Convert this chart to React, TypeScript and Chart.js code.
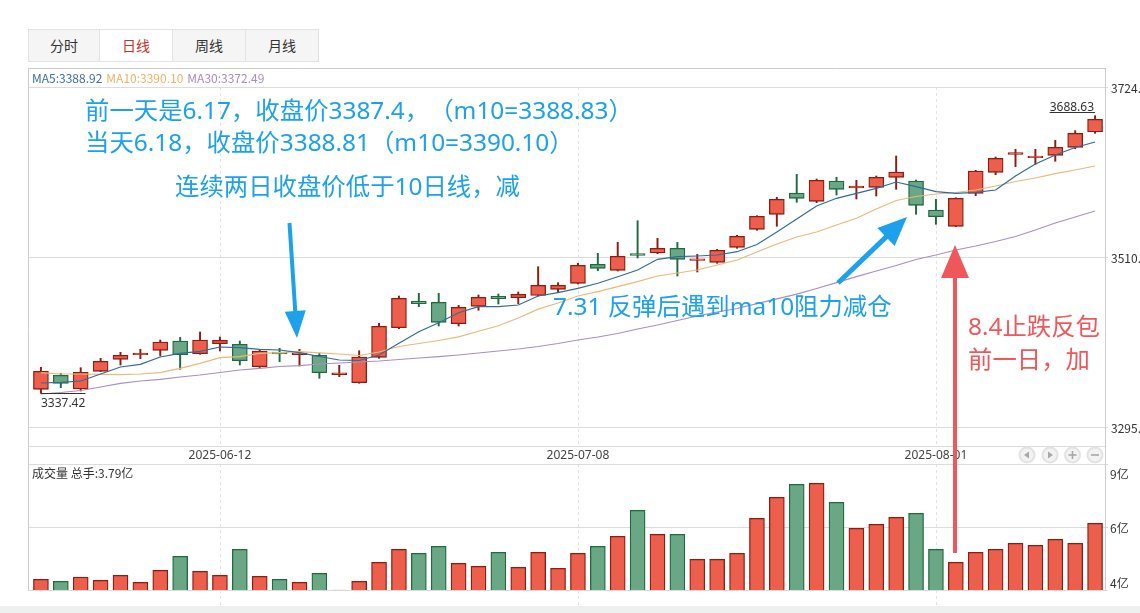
import React, { useEffect, useRef } from 'react';
import { Chart, registerables } from 'chart.js';

Chart.register(...registerables);

// ---------- data ----------
const dates = [
  '2025-05-29', '2025-05-30', '2025-06-03', '2025-06-04', '2025-06-05', '2025-06-06', '2025-06-09', '2025-06-10',
  '2025-06-11', '2025-06-12', '2025-06-13', '2025-06-16', '2025-06-17', '2025-06-18', '2025-06-19', '2025-06-20',
  '2025-06-23', '2025-06-24', '2025-06-25', '2025-06-26', '2025-06-27', '2025-06-30', '2025-07-01', '2025-07-02',
  '2025-07-03', '2025-07-04', '2025-07-07', '2025-07-08', '2025-07-09', '2025-07-10', '2025-07-11', '2025-07-14',
  '2025-07-15', '2025-07-16', '2025-07-17', '2025-07-18', '2025-07-21', '2025-07-22', '2025-07-23', '2025-07-24',
  '2025-07-25', '2025-07-28', '2025-07-29', '2025-07-30', '2025-07-31', '2025-08-01', '2025-08-04', '2025-08-05',
  '2025-08-06', '2025-08-07', '2025-08-08', '2025-08-11', '2025-08-12', '2025-08-13',
];

const opens = [
  3342.54, 3360.25, 3343.0, 3365.31, 3380.49, 3386.2, 3391.87, 3403.63, 3387.57, 3400.22,
  3399.46, 3371.12, 3389.6, 3386.5, 3385.55, 3361.2, 3350.88, 3383.02, 3420.46, 3454.23,
  3452.59, 3425.52, 3447.53, 3460.18, 3458.41, 3461.19, 3469.04, 3476.63, 3500.66, 3493.07,
  3513.31, 3514.95, 3520.9, 3505.6, 3503.19, 3522.17, 3544.94, 3563.91, 3590.85, 3580.36,
  3606.03, 3597.18, 3598.07, 3610.72, 3606.03, 3569.35, 3548.73, 3590.48, 3617.04, 3639.81,
  3635.6, 3638.55, 3648.67, 3668.02,
];
const highs = [
  3370.37, 3362.78, 3369.86, 3381.75, 3389.34, 3393.14, 3404.9, 3408.32, 3415.02, 3408.69,
  3403.63, 3391.87, 3394.4, 3393.1, 3388.08, 3372.9, 3391.36, 3426.03, 3460.56, 3463.98,
  3463.98, 3448.8, 3461.82, 3463.09, 3465.62, 3497.62, 3477.38, 3501.93, 3514.58, 3528.49,
  3555.81, 3533.55, 3528.49, 3513.31, 3519.64, 3537.35, 3562.14, 3585.42, 3614.51, 3608.56,
  3610.72, 3606.92, 3612.36, 3637.66, 3607.3, 3582.89, 3584.91, 3619.57, 3636.39, 3646.14,
  3646.14, 3657.52, 3669.66, 3688.63,
];
const lows = [
  3337.42, 3344.56, 3340.38, 3364.8, 3373.27, 3381.24, 3384.66, 3367.84, 3386.81, 3390.98,
  3373.27, 3369.1, 3377.4, 3372.0, 3356.45, 3358.47, 3350.13, 3381.75, 3419.19, 3447.02,
  3422.61, 3422.61, 3442.47, 3450.44, 3450.82, 3460.56, 3464.73, 3475.74, 3492.56, 3492.18,
  3508.63, 3514.07, 3485.86, 3490.92, 3501.93, 3520.9, 3543.67, 3548.73, 3579.09, 3578.58,
  3588.32, 3583.26, 3587.06, 3595.54, 3563.91, 3551.26, 3548.22, 3587.44, 3614.0, 3624.12,
  3627.16, 3630.96, 3646.89, 3666.38,
];
const closes = [
  3365.31, 3350.13, 3364.04, 3377.96, 3385.55, 3386.8, 3402.37, 3386.3, 3404.9, 3404.5,
  3378.71, 3390.98, 3387.4, 3388.81, 3363.53, 3361.8, 3383.4, 3422.23, 3457.65, 3450.82,
  3427.29, 3446.27, 3458.92, 3457.14, 3462.71, 3474.1, 3474.1, 3499.4, 3495.6, 3510.78,
  3512.05, 3520.9, 3506.99, 3506.3, 3518.37, 3536.08, 3561.38, 3582.89, 3584.15, 3606.92,
  3595.54, 3599.71, 3610.72, 3617.42, 3575.3, 3560.87, 3584.15, 3618.68, 3634.75, 3641.83,
  3636.39, 3648.67, 3666.38, 3684.09,
];

const ma5 = [
  3350.5, 3351.39, 3353.03, 3361.89, 3370.74, 3374.16, 3383.39, 3388.08, 3390.61, 3396.04,
  3395.16, 3393.14, 3392.25, 3388.92, 3384.03, 3379.6, 3378.97, 3385.92, 3400.73, 3415.4,
  3426.78, 3439.43, 3447.02, 3447.02, 3449.17, 3460.56, 3464.73, 3470.3, 3476.63, 3484.97,
  3493.45, 3506.99, 3510.27, 3511.16, 3512.42, 3516.6, 3525.71, 3541.52, 3557.96, 3574.41,
  3584.15, 3590.48, 3596.8, 3604.77, 3598.82, 3592.5, 3590.48, 3591.74, 3594.65, 3612.36,
  3627.54, 3638.92, 3648.41, 3655.37,
];
const ma10 = [
  3363.53, 3361.89, 3361.89, 3361.51, 3361.0, 3361.89, 3363.53, 3369.1, 3375.43, 3382.51,
  3383.77, 3388.08, 3388.83, 3390.1, 3388.5, 3387.19, 3385.29, 3389.72, 3396.68, 3400.47,
  3404.27, 3408.9, 3416.0, 3422.9, 3432.8, 3444.0, 3451.7, 3460.56, 3466.0, 3472.32,
  3478.65, 3485.86, 3489.65, 3493.45, 3499.77, 3506.1, 3516.22, 3526.34, 3535.19, 3541.52,
  3550.37, 3558.85, 3570.61, 3581.37, 3586.43, 3589.59, 3591.49, 3594.65, 3599.71, 3605.4,
  3609.83, 3615.27, 3619.95, 3625.01,
];
const ma30 = [
  3336.59, 3338.49, 3341.02, 3345.44, 3350.13, 3353.03, 3355.19, 3358.09, 3360.62, 3363.79,
  3366.95, 3369.1, 3371.38, 3372.49, 3374.54, 3375.8, 3377.07, 3378.33, 3380.23, 3382.13,
  3383.77, 3385.92, 3388.45, 3390.98, 3393.51, 3396.68, 3400.47, 3404.9, 3408.69, 3413.12,
  3418.81, 3423.87, 3429.57, 3435.26, 3440.32, 3444.75, 3451.0, 3457.0, 3463.0, 3470.0,
  3477.5, 3485.0, 3492.18, 3499.14, 3506.73, 3512.42, 3518.75, 3523.81, 3529.5, 3535.83,
  3544.05, 3552.9, 3560.49, 3568.08,
];

// 成交量 (亿手)
const volumes = [
  4.22, 4.14, 4.31, 4.18, 4.38, 4.1, 4.58, 5.14, 4.54, 4.38,
  5.42, 4.34, 4.22, 4.1, 4.46, 3.79, 4.14, 4.9, 5.42, 5.26,
  5.54, 4.86, 4.74, 5.3, 4.7, 5.3, 4.66, 5.26, 5.54, 5.94,
  6.98, 6.02, 6.02, 5.02, 5.02, 5.26, 6.66, 7.5, 8.02, 8.06,
  7.3, 6.26, 6.42, 6.7, 6.86, 5.42, 4.9, 5.3, 5.42, 5.66,
  5.58, 5.82, 5.66, 6.46,
];

const dateTickLabels = ['2025-06-12', '2025-07-08', '2025-08-01'];
const priceTicks = [3724.74, 3510.04, 3295.34];
const tabLabels = ['分时', '日线', '周线', '月线'];
const maLegend = ['MA5:3388.92', 'MA10:3390.10', 'MA30:3372.49'];
const volumeTitle = '成交量 总手:3.79亿';
const blueNotes = [
  '前一天是6.17，收盘价3387.4，（m10=3388.83）',
  '当天6.18，收盘价3388.81（m10=3390.10）',
  '连续两日收盘价低于10日线，减',
  '7.31 反弹后遇到ma10阻力减仓',
];
const redNotes = ['8.4止跌反包', '前一日，加'];

// ---------- style / layout ----------
const UP_FILL = '#ec5f4c';
const UP_LINE = '#8f1c10';
const DN_FILL = '#6aa784';
const DN_LINE = '#1f6b3f';
const MA_COLORS = ['#2f6c9c', '#ebb878', '#a98fc4'];
const LEGEND_COLORS = ['#3d6f9e', '#efb262', '#a98bc2'];
const BLUE = '#1da1ea';
const RED = '#f0575a';
const GRID = '#dcdcdc';
const FRAME = '#cccccc';
const LEGEND_TOP = 68;
const PRICE_BOTTOM = 446;
const VOL_TOP = 464;
const BAND_TOP = 606;
const AXIS_FONT = '12px "Noto Sans", "Noto Sans CJK SC", sans-serif';
const PRICE_FONT = '12px "Noto Sans CJK SC", "Noto Sans", sans-serif';

function drawArrow(ctx: CanvasRenderingContext2D, x1: number, y1: number, x2: number, y2: number,
  shaft: number, headLen: number, headW: number, color: string) {
  const dx = x2 - x1, dy = y2 - y1;
  const len = Math.hypot(dx, dy);
  const ux = dx / len, uy = dy / len;
  const bx = x2 - ux * headLen, by = y2 - uy * headLen;
  ctx.save();
  ctx.strokeStyle = color;
  ctx.fillStyle = color;
  ctx.lineWidth = shaft;
  ctx.beginPath();
  ctx.moveTo(x1, y1);
  ctx.lineTo(bx + ux * 2, by + uy * 2);
  ctx.stroke();
  ctx.beginPath();
  ctx.moveTo(x2, y2);
  ctx.lineTo(bx - uy * headW / 2, by + ux * headW / 2);
  ctx.lineTo(bx + uy * headW / 2, by - ux * headW / 2);
  ctx.closePath();
  ctx.fill();
  ctx.restore();
}

const overlayPlugin = {
  id: 'klineOverlay',
  beforeDatasetsDraw(chart: any) {
    const { ctx, chartArea: a, scales } = chart;
    const xs = scales.x, ys = scales.y, yv = scales.yv;
    const L = Math.round(a.left), R = Math.round(a.right), B = Math.round(a.bottom);
    const c = (v: number) => Math.round(v) + 0.5;
    ctx.save();
    ctx.lineWidth = 1;
    // dashed date lines
    ctx.strokeStyle = '#e3e3e3';
    ctx.setLineDash([3, 3]);
    dateTickLabels.forEach((d) => {
      const px = c(xs.getPixelForValue(dates.indexOf(d)));
      ctx.beginPath();
      ctx.moveTo(px, a.top);
      ctx.lineTo(px, PRICE_BOTTOM);
      ctx.moveTo(px, VOL_TOP);
      ctx.lineTo(px, 613);
      ctx.stroke();
    });
    ctx.setLineDash([]);
    // horizontal grid
    ctx.strokeStyle = GRID;
    const h = (yy: number, x2 = R + 3) => {
      ctx.beginPath();
      ctx.moveTo(L, c(yy));
      ctx.lineTo(x2, c(yy));
      ctx.stroke();
    };
    priceTicks.forEach((v) => h(ys.getPixelForValue(v)));
    h(PRICE_BOTTOM, R);
    h(VOL_TOP, R + 3);
    const vTop = yv.getValueForPixel(VOL_TOP);
    const vMid = (vTop + yv.min) / 2;
    h(yv.getPixelForValue(vMid));
    h(B);
    // frame
    ctx.strokeStyle = FRAME;
    ctx.beginPath();
    ctx.moveTo(L + 0.5, LEGEND_TOP + 0.5);
    ctx.lineTo(R + 0.5, LEGEND_TOP + 0.5);
    ctx.moveTo(L + 0.5, LEGEND_TOP);
    ctx.lineTo(L + 0.5, B + 1);
    ctx.moveTo(R + 0.5, LEGEND_TOP);
    ctx.lineTo(R + 0.5, B + 1);
    ctx.stroke();
    ctx.restore();
  },
  afterDatasetsDraw(chart: any) {
    const { ctx, chartArea: a, scales } = chart;
    const xs = scales.x, ys = scales.y, yv = scales.yv;
    const R = Math.round(a.right), B = Math.round(a.bottom);
    ctx.save();
    ctx.fillStyle = '#333';
    ctx.textBaseline = 'middle';
    ctx.textAlign = 'left';
    // price tick labels (cut by the page edge like the original)
    ctx.font = PRICE_FONT;
    priceTicks.forEach((v) => ctx.fillText(v.toFixed(2), R + 6, ys.getPixelForValue(v) + 1.5));
    // volume labels
    const vTop = yv.getValueForPixel(VOL_TOP);
    const vMid = (vTop + yv.min) / 2;
    ctx.fillText(Math.round(vTop) + '亿', R + 5, VOL_TOP + 10);
    ctx.fillText(Math.round(vMid) + '亿', R + 5, yv.getPixelForValue(vMid) + 1);
    ctx.fillText(Math.round(yv.min) + '亿', R + 5, B - 7);
    // date labels
    ctx.font = AXIS_FONT;
    ctx.textAlign = 'center';
    ctx.fillStyle = '#444';
    dateTickLabels.forEach((d) => {
      ctx.fillText(d, xs.getPixelForValue(dates.indexOf(d)), (PRICE_BOTTOM + VOL_TOP) / 2 + 1);
    });
    // low / high markers
    let iMin = 0, iMax = 0;
    lows.forEach((v, i) => { if (v < lows[iMin]) iMin = i; });
    highs.forEach((v, i) => { if (v > highs[iMax]) iMax = i; });
    ctx.strokeStyle = '#333';
    ctx.lineWidth = 1;
    ctx.fillStyle = '#333';
    const lx = xs.getPixelForValue(iMin), ly = Math.round(ys.getPixelForValue(lows[iMin])) + 0.5;
    ctx.textAlign = 'left';
    const lowText = lows[iMin].toFixed(2);
    const lw = ctx.measureText(lowText).width;
    ctx.beginPath(); ctx.moveTo(lx, ly); ctx.lineTo(lx + lw, ly); ctx.stroke();
    ctx.fillText(lowText, lx, ly + 10);
    const hx = xs.getPixelForValue(iMax), hy = Math.round(ys.getPixelForValue(highs[iMax])) - 3.5;
    const highText = highs[iMax].toFixed(2);
    const hw = ctx.measureText(highText).width;
    ctx.textAlign = 'right';
    ctx.beginPath(); ctx.moveTo(hx - hw - 1, hy); ctx.lineTo(hx, hy); ctx.stroke();
    ctx.fillText(highText, hx - 1, hy - 5);
    // annotation arrows
    drawArrow(ctx, 289.5, 223, 297, 338, 4, 27, 21, BLUE);
    drawArrow(ctx, 838, 283, 907, 217, 5, 29, 25, BLUE);
    drawArrow(ctx, 955, 553, 955, 245, 4, 33, 28, RED);
    // navigation buttons
    [1027, 1050, 1072.5, 1095].forEach((cx, k) => {
      const cy = 455;
      ctx.beginPath(); ctx.arc(cx, cy, 8.5, 0, Math.PI * 2);
      ctx.fillStyle = '#e2e2e2'; ctx.fill();
      ctx.beginPath(); ctx.arc(cx, cy, 6.5, 0, Math.PI * 2);
      ctx.fillStyle = '#f2f2f2'; ctx.fill();
      ctx.fillStyle = '#a8a8a8';
      ctx.strokeStyle = '#a8a8a8';
      ctx.lineWidth = 1.6;
      if (k === 0) { ctx.beginPath(); ctx.moveTo(cx - 3, cy); ctx.lineTo(cx + 2, cy - 3.5); ctx.lineTo(cx + 2, cy + 3.5); ctx.closePath(); ctx.fill(); }
      if (k === 1) { ctx.beginPath(); ctx.moveTo(cx + 3, cy); ctx.lineTo(cx - 2, cy - 3.5); ctx.lineTo(cx - 2, cy + 3.5); ctx.closePath(); ctx.fill(); }
      if (k >= 2) { ctx.beginPath(); ctx.moveTo(cx - 4, cy); ctx.lineTo(cx + 4, cy); ctx.stroke(); }
      if (k === 2) { ctx.beginPath(); ctx.moveTo(cx, cy - 4); ctx.lineTo(cx, cy + 4); ctx.stroke(); }
    });
    ctx.restore();
  },
};

export default function App() {
  const ref = useRef<HTMLCanvasElement>(null);

  useEffect(() => {
    if (!ref.current) return;
    const idx = dates.map((_, i) => i);
    const up = idx.map((i) => closes[i] >= opens[i]);
    const fills = up.map((u) => (u ? UP_FILL : DN_FILL));
    const lines = up.map((u) => (u ? UP_LINE : DN_LINE));
    const line = (vals: number[], color: string, label: string) => ({
      type: 'line' as const,
      label,
      data: idx.map((i) => ({ x: i, y: vals[i] })),
      borderColor: color,
      borderWidth: 1.2,
      pointRadius: 0,
      tension: 0,
      yAxisID: 'y',
      order: 0,
    });
    const chart = new Chart(ref.current, {
      type: 'bar',
      data: {
        datasets: [
          line(ma5, MA_COLORS[0], 'MA5'),
          line(ma10, MA_COLORS[1], 'MA10'),
          line(ma30, MA_COLORS[2], 'MA30'),
          {
            type: 'bar',
            label: 'body',
            data: idx.map((i) => ({ x: i, y: [opens[i], closes[i]] })) as any,
            backgroundColor: fills,
            borderColor: lines,
            borderWidth: 1.3,
            borderSkipped: false,
            barThickness: 15,
            minBarLength: 1.6,
            grouped: false,
            yAxisID: 'y',
            order: 1,
          },
          {
            type: 'bar',
            label: 'wick',
            data: idx.map((i) => ({ x: i, y: [lows[i], highs[i]] })) as any,
            backgroundColor: lines,
            barThickness: 1.3,
            grouped: false,
            yAxisID: 'y',
            order: 2,
          },
          {
            type: 'bar',
            label: 'volume',
            data: idx.map((i) => ({ x: i, y: volumes[i] })) as any,
            backgroundColor: fills,
            borderColor: lines,
            borderWidth: 1.3,
            borderSkipped: 'start',
            barThickness: 15,
            minBarLength: 1.5,
            grouped: false,
            yAxisID: 'yv',
            order: 1,
          },
        ] as any,
      },
      options: {
        responsive: false,
        maintainAspectRatio: false,
        animation: false,
        events: [],
        layout: { padding: { left: 28, right: 35, top: 87, bottom: 23 } },
        plugins: { legend: { display: false }, tooltip: { enabled: false } },
        scales: {
          x: { type: 'linear', min: -0.65, max: 53.5, offset: false, display: false },
          y: { type: 'linear', min: 3088.65, max: 3724.945, display: false },
          yv: { type: 'linear', min: 3.79, max: 23.91, display: false },
        },
      },
      plugins: [overlayPlugin],
    });
    return () => chart.destroy();
  }, []);

  const cjk = '"Noto Sans CJK SC", "Noto Sans", sans-serif';
  const mixed = '"Noto Sans", "Noto Sans CJK SC", sans-serif';
  const tabLeft = [28, 100, 173, 246];
  const tabRight = [100, 173, 246, 319];
  const blueNotePos = [
    { left: 85, cy: 111 },
    { left: 85, cy: 143 },
    { left: 175, cy: 187 },
    { left: 553, cy: 307 },
  ];
  const redNotePos = [
    { left: 968, cy: 327 },
    { left: 968, cy: 360 },
  ];
  const noteStyle: any = {
    position: 'absolute', fontFamily: mixed, fontSize: 24.4, lineHeight: '24px', whiteSpace: 'nowrap',
    textSpacingTrim: 'space-all',
  };

  return (
    <div style={{ position: 'fixed', left: 0, top: 0, width: 1140, height: 613, background: '#fff', overflow: 'hidden' }}>
      {tabLabels.map((t, i) => (
        <div
          key={t}
          style={{
            position: 'absolute',
            left: tabLeft[i],
            top: 29,
            width: tabRight[i] - tabLeft[i],
            height: 33,
            boxSizing: 'border-box',
            border: '1px solid #e3e3e3',
            borderLeftWidth: i === 0 ? 1 : 0,
            background: i === 1 ? '#fff' : '#f5f5f5',
            color: i === 1 ? '#c9302c' : '#333',
            fontFamily: cjk,
            fontSize: 14,
            lineHeight: '31px',
            textAlign: 'center',
          }}
        >
          {t}
        </div>
      ))}
      <canvas ref={ref} width={1140} height={613} style={{ position: 'absolute', left: 0, top: 0, width: 1140, height: 613 }} />
      <div style={{ position: 'absolute', left: 32, top: 70, fontFamily: cjk, fontSize: 12, lineHeight: '16px', whiteSpace: 'nowrap' }}>
        {maLegend.map((t, i) => (
          <span key={t} style={{ color: LEGEND_COLORS[i], marginRight: 4 }}>{t}</span>
        ))}
      </div>
      <div style={{ position: 'absolute', left: 32, top: 465, fontFamily: cjk, fontSize: 12, lineHeight: '16px', color: '#333', whiteSpace: 'nowrap' }}>
        {volumeTitle}
      </div>
      {blueNotes.map((t, i) => (
        <div key={t} style={{ ...noteStyle, left: blueNotePos[i].left, top: blueNotePos[i].cy - 13, color: BLUE }}>
          {t}
        </div>
      ))}
      {redNotes.map((t, i) => (
        <div key={t} style={{ ...noteStyle, left: redNotePos[i].left, top: redNotePos[i].cy - 13, color: RED }}>
          {t}
        </div>
      ))}
      <div style={{ position: 'absolute', left: 0, top: BAND_TOP, width: 1140, height: 613 - BAND_TOP, background: '#edf0ee' }} />
    </div>
  );
}
